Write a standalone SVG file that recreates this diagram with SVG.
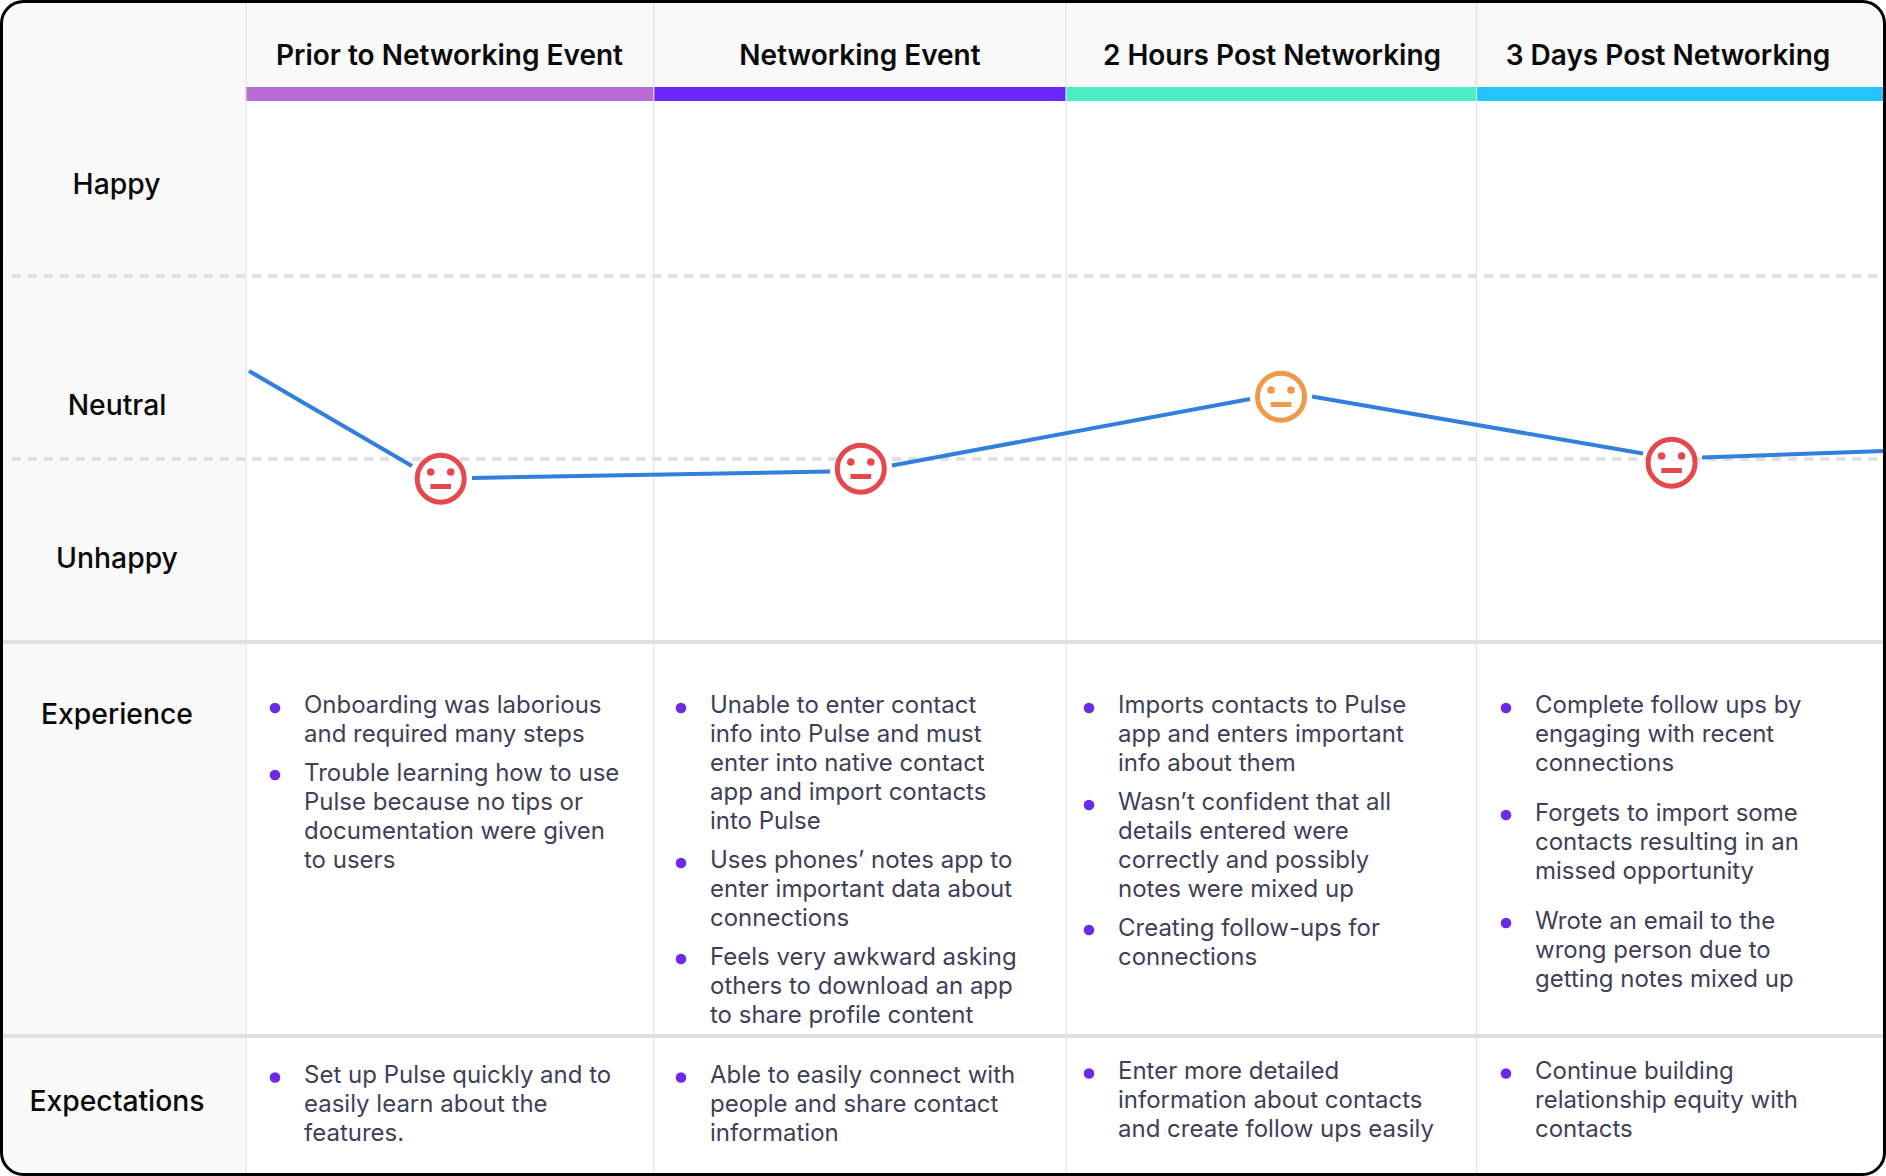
<svg xmlns="http://www.w3.org/2000/svg" width="1886" height="1176" viewBox="0 0 1886 1176">
<style>
.h{font:600 28px Inter,"Liberation Sans",sans-serif;fill:#0a0a0a;text-anchor:middle}
.r{font:500 28.300px Inter,"Liberation Sans",sans-serif;fill:#0a0a0a;text-anchor:middle}
.b{font:400 24px Inter,"Liberation Sans",sans-serif;fill:#3f3f58}
.d{fill:#6b2ae6}
.v{stroke:#e2e2e2;stroke-width:1.2;fill:none}
.s{stroke:#e0e0e0;stroke-width:4;fill:none}
.g{stroke:#e0e0e0;stroke-width:4;stroke-dasharray:9 7;fill:none}
.c{stroke:#337fdd;stroke-width:4;fill:none}
.f{fill:#fff;stroke-width:5}
</style>
<defs>
<g id="face"><circle class="f" cx="0" cy="0" r="23.500" stroke="currentColor"/><circle cx="-10" cy="-6.700" r="3.800" fill="currentColor"/><circle cx="10" cy="-6.700" r="3.800" fill="currentColor"/><rect x="-10.300" y="5.300" width="20.600" height="5" fill="currentColor"/></g>
<clipPath id="frame"><rect x="2" y="2" width="1882" height="1172" rx="22"/></clipPath>
</defs>
<rect width="1886" height="1176" fill="#fff"/>
<g clip-path="url(#frame)">
<rect id="left-column" x="0" y="0" width="245.500" height="1176" fill="#f9f9f9"/>
<rect id="header-band" x="245" y="0" width="1641" height="87" fill="#f9f9f9"/>
<rect x="245.500" y="87" width="408" height="14" fill="#b76bd5"/>
<rect x="653.500" y="87" width="412.500" height="14" fill="#6b26fb"/>
<rect x="1066" y="87" width="410.500" height="14" fill="#4dedc4"/>
<rect x="1476.500" y="87" width="409.500" height="14" fill="#22c5fd"/>
<path class="v" d="M246 0V1176M653.800 0V1176M1066 0V1176M1476.500 0V1176"/>
<path class="g" d="M12 276H1886M12 459H1886"/>
<path class="s" d="M0 642H1886M0 1036H1886"/>
<g id="connectors">
<path class="c" d="M249 371L412 466"/>
<path class="c" d="M472 478L830 471.500"/>
<path class="c" d="M892 465.500L1250 399"/>
<path class="c" d="M1312 396.500L1643 453.500"/>
<path class="c" d="M1702 457.500L1886 451"/>
</g>
</g>
<g id="node-face-1" style="color:#e5484d"><use href="#face" x="440.700" y="478.700"/></g>
<g id="node-face-2" style="color:#e5484d"><use href="#face" x="860.800" y="468.700"/></g>
<g id="node-face-3" style="color:#ee9a4a"><use href="#face" x="1281" y="396.700"/></g>
<g id="node-face-4" style="color:#e5484d"><use href="#face" x="1671.600" y="462.700"/></g>
<g id="headers">
<text class="h" x="449.500" y="65">Prior to Networking Event</text>
<text class="h" x="860" y="65">Networking Event</text>
<text class="h" x="1272" y="65">2 Hours Post Networking</text>
<text class="h" x="1668" y="65">3 Days Post Networking</text>
</g>
<g id="row-labels">
<text class="r" x="116.500" y="194">Happy</text>
<text class="r" x="117" y="415">Neutral</text>
<text class="r" x="117" y="568">Unhappy</text>
<text class="r" x="117" y="724">Experience</text>
<text class="r" x="117" y="1111">Expectations</text>
</g>
<g id="experience-1">
<circle class="d" cx="275" cy="708" r="5.300"/><circle class="d" cx="275" cy="775" r="5.300"/>
<text class="b"><tspan x="304" y="713">Onboarding was laborious</tspan><tspan x="304" y="742">and required many steps</tspan><tspan x="304" y="781">Trouble learning how to use</tspan><tspan x="304" y="810">Pulse because no tips or</tspan><tspan x="304" y="839">documentation were given</tspan><tspan x="304" y="868">to users</tspan></text>
</g>
<g id="experience-2">
<circle class="d" cx="681" cy="708" r="5.300"/><circle class="d" cx="681" cy="863" r="5.300"/><circle class="d" cx="681" cy="959" r="5.300"/>
<text class="b"><tspan x="710" y="713">Unable to enter contact</tspan><tspan x="710" y="742">info into Pulse and must</tspan><tspan x="710" y="771">enter into native contact</tspan><tspan x="710" y="800">app and import contacts</tspan><tspan x="710" y="829">into Pulse</tspan><tspan x="710" y="868">Uses phones’ notes app to</tspan><tspan x="710" y="897">enter important data about</tspan><tspan x="710" y="926">connections</tspan><tspan x="710" y="965">Feels very awkward asking</tspan><tspan x="710" y="994">others to download an app</tspan><tspan x="710" y="1023">to share profile content</tspan></text>
</g>
<g id="experience-3">
<circle class="d" cx="1089" cy="708" r="5.300"/><circle class="d" cx="1089" cy="805" r="5.300"/><circle class="d" cx="1089" cy="930" r="5.300"/>
<text class="b"><tspan x="1118" y="713">Imports contacts to Pulse</tspan><tspan x="1118" y="742">app and enters important</tspan><tspan x="1118" y="771">info about them</tspan><tspan x="1118" y="810">Wasn’t confident that all</tspan><tspan x="1118" y="839">details entered were</tspan><tspan x="1118" y="868">correctly and possibly</tspan><tspan x="1118" y="897">notes were mixed up</tspan><tspan x="1118" y="936">Creating follow-ups for</tspan><tspan x="1118" y="965">connections</tspan></text>
</g>
<g id="experience-4">
<circle class="d" cx="1506" cy="708" r="5.300"/><circle class="d" cx="1506" cy="815" r="5.300"/><circle class="d" cx="1506" cy="923" r="5.300"/>
<text class="b"><tspan x="1535" y="713">Complete follow ups by</tspan><tspan x="1535" y="742">engaging with recent</tspan><tspan x="1535" y="771">connections</tspan><tspan x="1535" y="821">Forgets to import some</tspan><tspan x="1535" y="850">contacts resulting in an</tspan><tspan x="1535" y="879">missed opportunity</tspan><tspan x="1535" y="929">Wrote an email to the</tspan><tspan x="1535" y="958">wrong person due to</tspan><tspan x="1535" y="987">getting notes mixed up</tspan></text>
</g>
<g id="expectations-1">
<circle class="d" cx="275" cy="1077.500" r="5.300"/>
<text class="b"><tspan x="304" y="1083">Set up Pulse quickly and to</tspan><tspan x="304" y="1112">easily learn about the</tspan><tspan x="304" y="1141">features.</tspan></text>
</g>
<g id="expectations-2">
<circle class="d" cx="681" cy="1077.500" r="5.300"/>
<text class="b"><tspan x="710" y="1083">Able to easily connect with</tspan><tspan x="710" y="1112">people and share contact</tspan><tspan x="710" y="1141">information</tspan></text>
</g>
<g id="expectations-3">
<circle class="d" cx="1089" cy="1073.500" r="5.300"/>
<text class="b"><tspan x="1118" y="1079">Enter more detailed</tspan><tspan x="1118" y="1108">information about contacts</tspan><tspan x="1118" y="1137">and create follow ups easily</tspan></text>
</g>
<g id="expectations-4">
<circle class="d" cx="1506" cy="1073.500" r="5.300"/>
<text class="b"><tspan x="1535" y="1079">Continue building</tspan><tspan x="1535" y="1108">relationship equity with</tspan><tspan x="1535" y="1137">contacts</tspan></text>
</g>
<rect id="outer-frame" x="1.500" y="1.500" width="1883" height="1173" rx="22" fill="none" stroke="#000" stroke-width="3"/>
</svg>
